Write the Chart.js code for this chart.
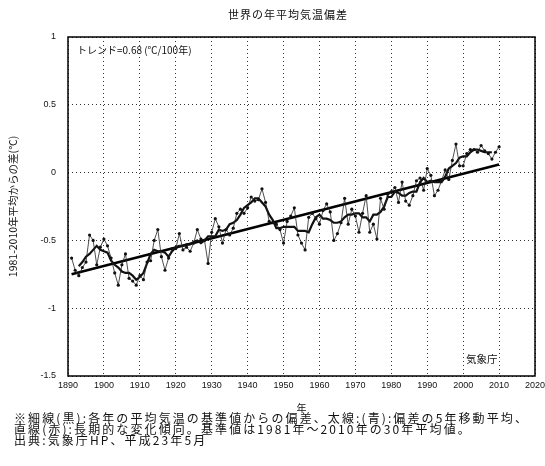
<!DOCTYPE html>
<html lang="ja">
<head>
<meta charset="utf-8">
<title>世界の年平均気温偏差</title>
<script src="https://cdn.jsdelivr.net/npm/chart.js@4.4.1/dist/chart.umd.min.js"></script>
<style>
  html, body { margin: 0; padding: 0; background: #fff; }
  #wrap { position: relative; width: 545px; height: 466px; overflow: hidden; }
  #wrap canvas { position: absolute; left: 0; top: 0; }
  .txt { position: absolute; white-space: nowrap; color: #111; font-family: "Noto Sans CJK JP", "Noto Sans", sans-serif; }
  #title { left: 228px; top: 6px; font-size: 11px; letter-spacing: 1px; }
  #trend { left: 77px; top: 42px; font-size: 10px; }
  #jma { left: 466px; top: 351px; font-size: 10.5px; }
  #note { left: 14px; top: 412px; font-size: 12px; line-height: 11px; letter-spacing: 2.1px; }
</style>
</head>
<body>
<div id="wrap">
  <canvas id="chart" width="545" height="466"></canvas>
  <div class="txt" id="title">世界の年平均気温偏差</div>
  <div class="txt" id="trend">トレンド=0.68 (℃/100年)</div>
  <div class="txt" id="jma">気象庁</div>
  <div class="txt" id="note">※細線(黒):各年の平均気温の基準値からの偏差、太線:(青):偏差の5年移動平均、<br>直線(赤):長期的な変化傾向。基準値は1981年～2010年の30年平均値。<br>出典:気象庁HP、平成23年5月</div>
</div>
<script>
// 年 (横軸)
const years = [
  1891, 1892, 1893, 1894, 1895, 1896, 1897, 1898, 1899, 1900,
  1901, 1902, 1903, 1904, 1905, 1906, 1907, 1908, 1909, 1910,
  1911, 1912, 1913, 1914, 1915, 1916, 1917, 1918, 1919, 1920,
  1921, 1922, 1923, 1924, 1925, 1926, 1927, 1928, 1929, 1930,
  1931, 1932, 1933, 1934, 1935, 1936, 1937, 1938, 1939, 1940,
  1941, 1942, 1943, 1944, 1945, 1946, 1947, 1948, 1949, 1950,
  1951, 1952, 1953, 1954, 1955, 1956, 1957, 1958, 1959, 1960,
  1961, 1962, 1963, 1964, 1965, 1966, 1967, 1968, 1969, 1970,
  1971, 1972, 1973, 1974, 1975, 1976, 1977, 1978, 1979, 1980,
  1981, 1982, 1983, 1984, 1985, 1986, 1987, 1988, 1989, 1990,
  1991, 1992, 1993, 1994, 1995, 1996, 1997, 1998, 1999, 2000,
  2001, 2002, 2003, 2004, 2005, 2006, 2007, 2008, 2009, 2010
];

// 各年の偏差 (細線)
const annualAnomaly = [
  -0.63, -0.72, -0.76, -0.70, -0.66, -0.46, -0.50, -0.68, -0.55, -0.49,
  -0.54, -0.63, -0.74, -0.83, -0.68, -0.60, -0.78, -0.80, -0.83, -0.76,
  -0.79, -0.66, -0.65, -0.50, -0.42, -0.62, -0.72, -0.63, -0.56, -0.56,
  -0.45, -0.57, -0.55, -0.58, -0.52, -0.42, -0.49, -0.50, -0.67, -0.44,
  -0.34, -0.40, -0.52, -0.42, -0.46, -0.41, -0.30, -0.27, -0.30, -0.26,
  -0.18, -0.21, -0.20, -0.12, -0.22, -0.36, -0.37, -0.38, -0.42, -0.52,
  -0.36, -0.32, -0.26, -0.46, -0.52, -0.57, -0.33, -0.30, -0.34, -0.38,
  -0.28, -0.23, -0.29, -0.50, -0.45, -0.37, -0.19, -0.38, -0.27, -0.32,
  -0.44, -0.30, -0.17, -0.44, -0.38, -0.49, -0.19, -0.27, -0.16, -0.14,
  -0.11, -0.22, -0.07, -0.21, -0.24, -0.17, -0.06, -0.04, -0.13, 0.03,
  -0.02, -0.17, -0.13, -0.06, 0.02, -0.05, 0.09, 0.21, 0.05, 0.05,
  0.14, 0.17, 0.17, 0.15, 0.20, 0.16, 0.14, 0.10, 0.15, 0.19
];

// 5年移動平均 (太線)
const maYears = [
  1893, 1894, 1895, 1896, 1897, 1898, 1899, 1900,
  1901, 1902, 1903, 1904, 1905, 1906, 1907, 1908, 1909, 1910,
  1911, 1912, 1913, 1914, 1915, 1916, 1917, 1918, 1919, 1920,
  1921, 1922, 1923, 1924, 1925, 1926, 1927, 1928, 1929, 1930,
  1931, 1932, 1933, 1934, 1935, 1936, 1937, 1938, 1939, 1940,
  1941, 1942, 1943, 1944, 1945, 1946, 1947, 1948, 1949, 1950,
  1951, 1952, 1953, 1954, 1955, 1956, 1957, 1958, 1959, 1960,
  1961, 1962, 1963, 1964, 1965, 1966, 1967, 1968, 1969, 1970,
  1971, 1972, 1973, 1974, 1975, 1976, 1977, 1978, 1979, 1980,
  1981, 1982, 1983, 1984, 1985, 1986, 1987, 1988, 1989, 1990,
  1991, 1992, 1993, 1994, 1995, 1996, 1997, 1998, 1999, 2000,
  2001, 2002, 2003, 2004, 2005, 2006, 2007, 2008
];
const movingAvg5 = [
  -0.69, -0.66, -0.62, -0.60, -0.57, -0.54, -0.57, -0.58,
  -0.59, -0.65, -0.68, -0.70, -0.73, -0.74, -0.74, -0.76, -0.79, -0.77,
  -0.74, -0.67, -0.60, -0.57, -0.58, -0.58, -0.59, -0.62, -0.58, -0.55,
  -0.54, -0.54, -0.53, -0.53, -0.51, -0.50, -0.52, -0.50, -0.47, -0.47,
  -0.47, -0.42, -0.43, -0.42, -0.38, -0.37, -0.35, -0.31, -0.26, -0.24,
  -0.22, -0.19, -0.19, -0.22, -0.25, -0.31, -0.35, -0.41, -0.41, -0.40,
  -0.40, -0.40, -0.40, -0.43, -0.43, -0.43, -0.44, -0.38, -0.33, -0.31,
  -0.34, -0.34, -0.35, -0.37, -0.37, -0.36, -0.33, -0.31, -0.31, -0.30,
  -0.30, -0.33, -0.33, -0.36, -0.31, -0.31, -0.29, -0.25, -0.18, -0.18,
  -0.14, -0.15, -0.17, -0.17, -0.15, -0.14, -0.14, -0.07, -0.04, -0.07,
  -0.06, -0.07, -0.07, -0.07, -0.03, 0.03, 0.05, 0.07, 0.11, 0.12,
  0.12, 0.15, 0.17, 0.17, 0.16, 0.15, 0.15, 0.15
];

// 長期的な変化傾向 (直線, 0.68℃/100年)
const trendYears = [1891, 2010];
const trendValues = [-0.75, 0.06];

// 目盛
const xMin = 1890, xMax = 2020, xStep = 10;
const yMin = -1.5, yMax = 1, yStep = 0.5;

const toPoints = (xs, ys) => xs.map((x, i) => ({ x: x, y: ys[i] }));

// 枠線 (上・右も実線で囲む)
const framePlugin = {
  id: 'frame',
  afterDraw(chart) {
    const { ctx, chartArea: a } = chart;
    ctx.save();
    ctx.strokeStyle = '#000';
    ctx.lineWidth = 1.5;
    ctx.strokeRect(a.left, a.top, a.right - a.left, a.bottom - a.top);
    ctx.restore();
  }
};

const tickFont = { family: '"Liberation Sans", Arial, sans-serif', size: 9 };

new Chart(document.getElementById('chart'), {
  type: 'line',
  data: {
    datasets: [
      {
        label: '各年の偏差',
        data: toPoints(years, annualAnomaly),
        borderColor: '#222',
        backgroundColor: '#111',
        borderWidth: 0.8,
        pointRadius: 1.6,
        pointBorderWidth: 0,
        tension: 0
      },
      {
        label: '5年移動平均',
        data: toPoints(maYears, movingAvg5),
        borderColor: '#111',
        borderWidth: 2.2,
        pointRadius: 0,
        tension: 0
      },
      {
        label: '長期的な変化傾向',
        data: toPoints(trendYears, trendValues),
        borderColor: '#000',
        borderWidth: 2.5,
        pointRadius: 0
      }
    ]
  },
  options: {
    responsive: false,
    animation: false,
    events: [],
    layout: { padding: { top: 37, right: 10, bottom: 50, left: 0 } },
    plugins: {
      legend: { display: false },
      tooltip: { enabled: false }
    },
    scales: {
      x: {
        type: 'linear',
        min: xMin,
        max: xMax,
        grid: { color: '#333', lineWidth: 1, drawTicks: false },
        border: { display: false, dash: [1, 3] },
        ticks: {
          stepSize: xStep,
          padding: 4,
          color: '#111',
          font: tickFont,
          maxRotation: 0,
          callback: v => String(v)
        },
        title: { display: true, text: '年', color: '#111', font: { family: '"Noto Sans CJK JP"', size: 10 }, padding: { top: 0, bottom: 2 } },
        afterFit(scale) { scale.height = 40; scale.paddingLeft = 0; scale.paddingRight = 0; }
      },
      y: {
        min: yMin,
        max: yMax,
        grid: { color: '#333', lineWidth: 1, drawTicks: false },
        border: { display: false, dash: [1, 3] },
        ticks: { stepSize: yStep, padding: 12, color: '#111', font: tickFont, callback: v => String(v) },
        title: { display: true, text: '1981-2010年平均からの差(℃)', color: '#111', font: { family: '"Noto Sans CJK JP"', size: 10.5 }, padding: { top: 7, bottom: 4 } },
        afterFit(scale) { scale.width = 68; scale.paddingTop = 0; scale.paddingBottom = 0; }
      }
    }
  },
  plugins: [framePlugin]
});
</script>
</body>
</html>
